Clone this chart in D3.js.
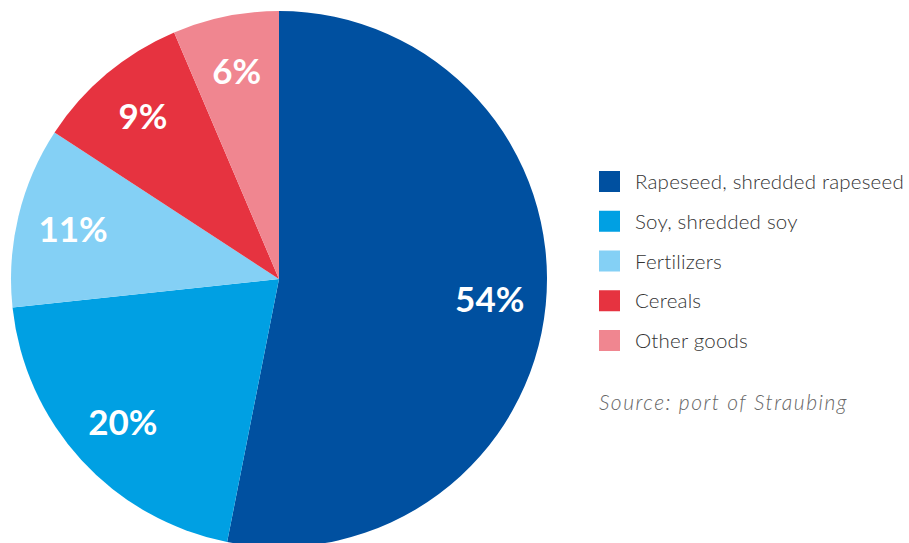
<!DOCTYPE html>
<html>
<head>
<meta charset="utf-8">
<script src="https://cdn.jsdelivr.net/npm/d3@7"></script>
<style>
  body { margin: 0; background: #fff; }
  svg { display: block; }
</style>
</head>
<body>
<svg width="909" height="543"></svg>
<script>
// shares; labels as printed on the chart
const categories = ["Rapeseed, shredded rapeseed", "Soy, shredded soy", "Fertilizers", "Cereals", "Other goods"]
const shares = [53.1, 20.2, 10.9, 9.4, 6.4]
const shareLabels = ["54%", "20%", "11%", "9%", "6%"]
const colors = ["#0050a0", "#00a0e3", "#84d0f5", "#e63340", "#f08690"]
const sourceNote = "Source: port of Straubing"

const data = categories.map((c, i) => ({ name: c, value: shares[i], label: shareLabels[i], color: colors[i] }))

const svg = d3.select("svg")
const cx = 279, cy = 279, radius = 268

const pie = d3.pie().value(d => d.value).sort(null)
const arc = d3.arc().innerRadius(0).outerRadius(radius)
const labelArc = d3.arc().innerRadius(radius * 0.79).outerRadius(radius * 0.79)

const pieG = svg.append("g").attr("transform", `translate(${cx},${cy})`)

pieG.selectAll("path")
  .data(pie(data))
  .enter()
  .append("path")
  .attr("d", arc)
  .attr("fill", d => d.data.color)

pieG.selectAll("text")
  .data(pie(data))
  .enter()
  .append("text")
  .attr("transform", d => "translate(" + labelArc.centroid(d) + ")")
  .attr("text-anchor", "middle")
  .attr("dy", "0.36em")
  .attr("fill", "#fff")
  .style("font-family", "Lato, sans-serif")
  .style("font-weight", "700")
  .style("font-size", "35px")
  .text(d => d.data.label)

const legend = svg.append("g").attr("transform", "translate(599,171)")

const rows = legend.selectAll("g")
  .data(data)
  .enter()
  .append("g")
  .attr("transform", (d, i) => "translate(0," + (i * 39.75) + ")")

rows.append("rect")
  .attr("width", 21)
  .attr("height", 21)
  .attr("fill", d => d.color)

rows.append("text")
  .attr("x", 36)
  .attr("y", 18)
  .attr("fill", "#333")
  .style("font-family", "Lato, sans-serif")
  .style("font-weight", "300")
  .style("font-size", "20.5px")
  .style("letter-spacing", "0.2px")
  .text(d => d.name)

svg.append("text")
  .attr("x", 599)
  .attr("y", 410)
  .attr("fill", "#666")
  .style("font-family", "Lato, sans-serif")
  .style("font-style", "italic")
  .style("font-weight", "300")
  .style("font-size", "21px")
  .style("letter-spacing", "1.5px")
  .text(sourceNote)
</script>
</body>
</html>
